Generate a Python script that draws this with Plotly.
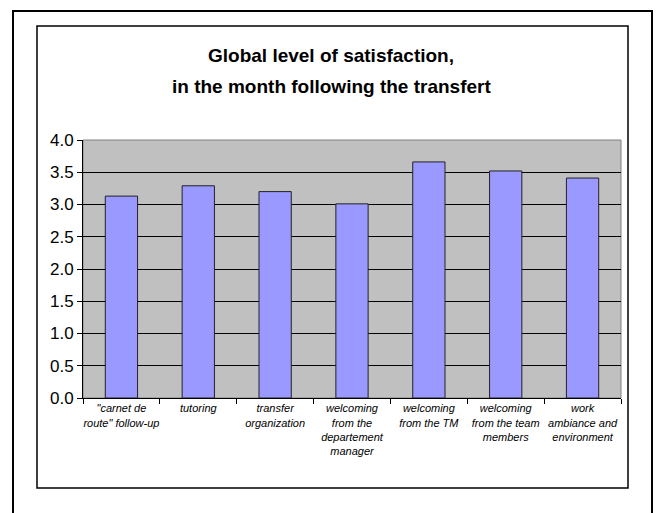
import plotly.graph_objects as go

categories = [
    '"carnet de<br>route" follow-up',
    'tutoring',
    'transfer<br>organization',
    'welcoming<br>from the<br>departement<br>manager',
    'welcoming<br>from the TM',
    'welcoming<br>from the team<br>members',
    'work<br>ambiance and<br>environment',
]
satisfaction = [3.13, 3.29, 3.20, 3.01, 3.66, 3.52, 3.41]
y_ticks = [0.0, 0.5, 1.0, 1.5, 2.0, 2.5, 3.0, 3.5, 4.0]
title_lines = ['Global level of satisfaction,', 'in the month following the transfert']

# plot area in pixels
L, R, T, B = 83, 621, 140, 398
W, H = 660, 513


def px_x(x):
    return (x - L) / (R - L)


def px_y(y):
    return (B - y) / (B - T)


fig = go.Figure()
fig.add_trace(go.Bar(
    x=[f'<i>{c}</i>' for c in categories],
    y=satisfaction,
    width=0.42,
    marker=dict(color='#9999FF', line=dict(color='#222222', width=1)),
))

fig.update_layout(
    width=W, height=H,
    margin=dict(l=L, r=W - R, t=T, b=H - B, autoexpand=False),
    paper_bgcolor='white',
    plot_bgcolor='#C0C0C0',
    showlegend=False,
    font=dict(family='Liberation Sans, Arial, sans-serif', color='black'),
)

# title as two lines with wider line spacing
for text, ypx in zip(title_lines, [55, 86]):
    fig.add_annotation(text=f'<b>{text}</b>', xref='paper', yref='paper',
                       x=px_x(331), y=px_y(ypx), showarrow=False,
                       xanchor='center', yanchor='middle', font=dict(size=19))

fig.update_xaxes(
    showline=True, linecolor='black', linewidth=1,
    ticks='outside', ticklen=5, tickcolor='black', tickson='boundaries',
    tickangle=0, automargin=False,
    tickfont=dict(size=11), showgrid=False, mirror=False,
)
fig.update_yaxes(
    range=[0, 4], tickvals=y_ticks, tickformat='.1f',
    showline=True, linecolor='black', linewidth=1,
    ticks='outside', ticklen=5, tickcolor='black', automargin=False,
    tickfont=dict(size=17),
    showgrid=True, gridcolor='black', gridwidth=1, zeroline=False,
)

# gray frame of plot area (top/right)
fig.add_shape(type='rect', xref='paper', yref='paper', x0=0, x1=1, y0=0, y1=1,
              line=dict(color='#808080', width=1), layer='below')
# inner chart border
fig.add_shape(type='rect', xref='paper', yref='paper',
              x0=px_x(37), x1=px_x(628), y0=px_y(488), y1=px_y(26),
              line=dict(color='black', width=1.5))
# outer border
fig.add_shape(type='rect', xref='paper', yref='paper',
              x0=px_x(13), x1=px_x(652), y0=px_y(530), y1=px_y(11),
              line=dict(color='black', width=2))

fig.write_html('out.html', config={'displayModeBar': False},
               post_script="document.body.style.margin='0';")
